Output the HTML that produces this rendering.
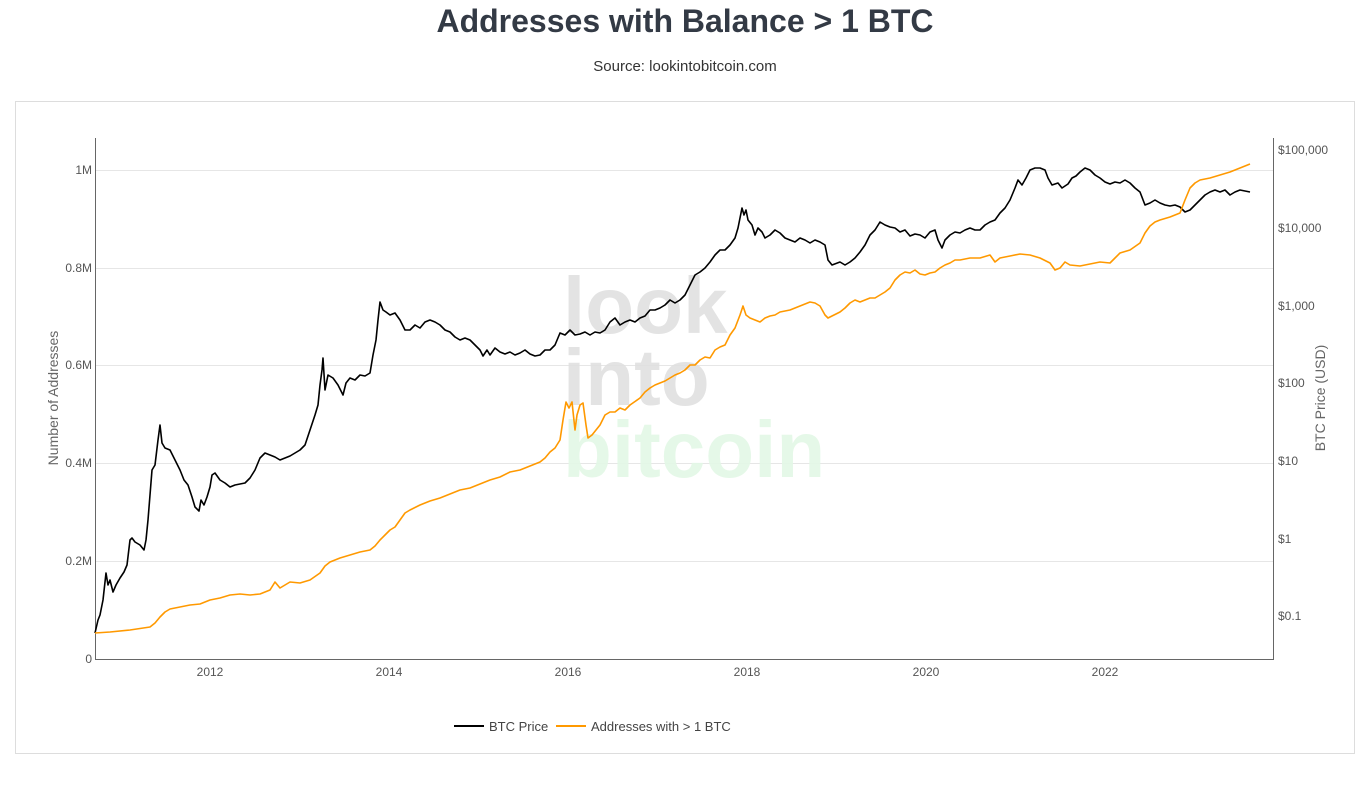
<!DOCTYPE html>
<html><head><meta charset="utf-8"><style>
body{margin:0;width:1370px;height:802px;background:#fff;font-family:"Liberation Sans",sans-serif;overflow:hidden}
</style></head><body>
<svg width="1370" height="802" xmlns="http://www.w3.org/2000/svg" font-family="Liberation Sans, sans-serif">
<text x="685" y="32" text-anchor="middle" font-size="32" font-weight="bold" fill="#333a45">Addresses with Balance &gt; 1 BTC</text>
<text x="685" y="71" text-anchor="middle" font-size="15" fill="#333">Source: lookintobitcoin.com</text>
<rect x="15.5" y="101.5" width="1339" height="652" fill="none" stroke="#ddd"/>
<g stroke="#e6e6e6" stroke-width="1">
<line x1="95" y1="170.5" x2="1274" y2="170.5"/><line x1="95" y1="268.5" x2="1274" y2="268.5"/>
<line x1="95" y1="365.5" x2="1274" y2="365.5"/><line x1="95" y1="463.5" x2="1274" y2="463.5"/>
<line x1="95" y1="561.5" x2="1274" y2="561.5"/>
</g>
<line x1="95.5" y1="138" x2="95.5" y2="659" stroke="#666"/>
<line x1="1273.5" y1="138" x2="1273.5" y2="659" stroke="#666"/>
<line x1="95" y1="659.5" x2="1274" y2="659.5" stroke="#666"/>
<g font-size="80" font-weight="bold" opacity="0.9">
<text x="563" y="333" fill="#e0e0e0">look</text>
<text x="563" y="405" fill="#e0e0e0">into</text>
<text x="563" y="477" fill="#e3f8e6">bitcoin</text>
</g>
<g font-size="12" fill="#555" text-anchor="end">
<text x="92" y="174">1M</text><text x="92" y="272">0.8M</text><text x="92" y="369">0.6M</text>
<text x="92" y="467">0.4M</text><text x="92" y="565">0.2M</text><text x="92" y="663">0</text>
</g>
<g font-size="12" fill="#555">
<text x="1278" y="154">$100,000</text><text x="1278" y="232">$10,000</text><text x="1278" y="310">$1,000</text>
<text x="1278" y="387">$100</text><text x="1278" y="465">$10</text><text x="1278" y="543">$1</text><text x="1278" y="620">$0.1</text>
</g>
<g font-size="12" fill="#555" text-anchor="middle">
<text x="210" y="676">2012</text><text x="389" y="676">2014</text><text x="568" y="676">2016</text>
<text x="747" y="676">2018</text><text x="926" y="676">2020</text><text x="1105" y="676">2022</text>
</g>
<text transform="translate(58,398) rotate(-90)" text-anchor="middle" font-size="14" fill="#666">Number of Addresses</text>
<text transform="translate(1325,398) rotate(-90)" text-anchor="middle" font-size="14" fill="#666">BTC Price (USD)</text>
<polyline fill="none" stroke="#000" stroke-width="1.6" stroke-linejoin="round" points="95,633 98,620 100,615 103,600 106,573 108,585 110,580 113,592 116,585 120,578 124,572 127,565 130,540 132,538 135,542 140,545 144,550 146,540 148,520 150,495 152,470 155,465 158,440 160,425 162,443 165,448 170,450 175,460 180,470 184,480 188,485 192,497 195,507 199,511 201,500 204,505 207,497 210,487 212,475 215,473 220,480 225,483 230,487 235,485 240,484 245,483 250,478 255,470 260,458 265,453 270,455 275,457 280,460 285,458 290,456 295,453 300,450 305,445 310,430 315,415 318,405 320,385 322,370 323,358 325,390 328,375 333,378 338,385 343,395 346,383 350,378 355,380 360,375 365,376 370,373 373,355 376,340 378,320 380,302 383,310 386,312 390,315 395,313 400,320 405,330 410,330 415,325 420,328 425,322 430,320 435,322 440,325 445,330 450,332 455,337 460,340 465,338 470,340 475,345 480,350 483,356 487,350 490,355 495,348 500,352 505,354 510,352 515,355 520,353 525,350 530,354 535,356 540,355 545,350 550,350 555,345 560,333 565,335 570,330 575,335 580,334 585,332 590,335 595,332 600,333 605,330 610,322 615,318 620,325 625,322 630,320 635,322 640,318 645,316 650,310 655,310 660,308 665,305 670,300 675,303 680,300 685,295 690,285 695,275 700,272 705,268 710,262 715,255 720,250 725,250 730,245 735,238 738,228 740,218 742,208 744,215 746,210 748,220 752,225 755,235 758,228 762,232 765,238 770,235 775,230 780,233 785,238 790,240 795,242 800,238 805,240 810,243 815,240 820,242 825,245 828,260 832,265 840,262 845,265 850,262 855,258 860,252 865,245 870,235 875,230 880,222 885,225 890,227 895,228 900,232 905,230 910,236 915,234 920,235 925,238 930,232 935,230 938,240 942,248 945,240 950,235 955,232 960,233 965,230 970,228 975,230 980,230 985,225 990,222 995,220 1000,213 1005,208 1010,200 1015,188 1018,180 1022,185 1026,178 1030,170 1035,168 1040,168 1045,170 1048,178 1052,185 1058,183 1062,188 1068,184 1072,178 1076,176 1080,172 1085,168 1090,170 1095,175 1100,178 1105,182 1110,184 1115,182 1120,183 1125,180 1130,183 1135,188 1140,192 1145,205 1150,203 1155,200 1160,203 1165,205 1170,206 1175,205 1180,207 1185,212 1190,210 1195,205 1200,200 1205,195 1210,192 1215,190 1220,192 1225,190 1230,195 1235,192 1240,190 1245,191 1250,192"/>
<polyline fill="none" stroke="#ff9900" stroke-width="1.6" stroke-linejoin="round" points="95,633 110,632 130,630 150,627 155,623 160,617 165,612 170,609 180,607 190,605 200,604 210,600 220,598 230,595 240,594 250,595 260,594 270,590 275,582 280,588 285,585 290,582 300,583 310,580 320,573 325,566 330,562 340,558 350,555 360,552 370,550 375,546 380,540 385,535 390,530 395,527 400,520 405,513 410,510 420,505 430,501 440,498 450,494 460,490 470,488 480,484 490,480 500,477 510,472 520,470 530,466 540,462 545,458 550,452 555,448 560,440 563,420 566,402 569,408 572,402 575,430 577,415 580,405 583,403 586,425 588,438 592,435 600,425 605,415 610,412 615,412 620,408 625,410 630,405 640,398 645,392 650,388 655,385 660,383 665,381 670,378 675,375 680,373 685,370 690,365 695,365 700,360 705,357 710,358 715,350 720,347 725,345 730,335 735,328 740,315 743,306 746,315 750,318 755,320 760,322 765,318 770,316 775,315 780,312 790,310 800,306 810,302 815,303 820,306 825,315 828,318 832,316 840,312 845,308 850,303 855,300 860,302 865,300 870,298 875,298 880,295 885,292 890,288 895,280 900,275 905,272 910,273 915,270 920,274 925,275 930,273 935,272 940,268 945,265 950,263 955,260 960,260 970,258 980,258 990,255 995,262 1000,258 1010,256 1020,254 1030,255 1040,258 1050,263 1055,270 1060,268 1065,262 1070,265 1080,266 1090,264 1100,262 1110,263 1115,258 1120,253 1130,250 1140,243 1145,233 1150,226 1155,222 1160,220 1170,217 1180,213 1185,200 1190,188 1195,183 1200,180 1210,178 1220,175 1230,172 1240,168 1250,164"/>
<line x1="454" y1="726" x2="484" y2="726" stroke="#000" stroke-width="2"/>
<text x="489" y="731" font-size="13" fill="#444">BTC Price</text>
<line x1="556" y1="726" x2="586" y2="726" stroke="#ff9900" stroke-width="2"/>
<text x="591" y="731" font-size="13" fill="#444">Addresses with &gt; 1 BTC</text>
</svg>
</body></html>
